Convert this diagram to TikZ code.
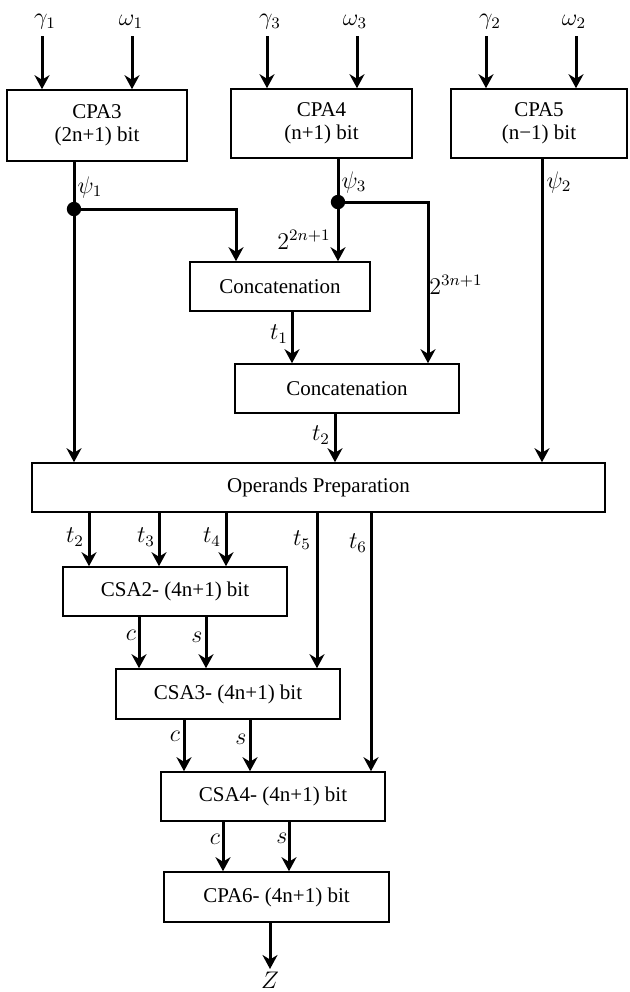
\documentclass[tikz,border=0pt]{standalone}
\RequirePackage{fix-cm}
\usepackage{fontspec}
\setmainfont{Liberation Serif}
\usetikzlibrary{arrows.meta}

\tikzset{
  blok/.style={draw, line width=0.8pt, inner sep=0pt, align=center,
    font=\fontsize{10.5}{11.5}\selectfont},
  pijl/.style={->, line width=1.5pt},
  lijn/.style={line width=1.5pt},
  lab/.style={inner sep=0pt, font=\fontsize{12}{14}\selectfont},
}

\begin{document}
\begin{tikzpicture}[x=0.5pt, y=-0.5pt, >={Stealth[length=7pt,width=7.5pt]}]

  \useasboundingbox (0,0) rectangle (629,992);

  % Optellers bovenaan
  \node[blok, minimum width=90pt, minimum height=35.5pt] (cpa3) at (97,125.5) {CPA3\\(2n+1) bit};
  \node[blok, minimum width=90.5pt, minimum height=34.5pt] (cpa4) at (321.5,123.5) {CPA4\\(n+1) bit};
  \node[blok, minimum width=88pt, minimum height=34.5pt] (cpa5) at (539,123.5) {CPA5\\(n−1) bit};

  % Concatenatie
  \node[blok, minimum width=90pt, minimum height=24.5pt] (cat1) at (280,286.5) {Concatenation};
  \node[blok, minimum width=112pt, minimum height=24.5pt] (cat2) at (347,388.5) {Concatenation};

  % Operanden
  \node[blok, minimum width=286.5pt, minimum height=24.5pt] (prep) at (318.5,487.5) {Operands Preparation};

  % CSA-boom en laatste opteller
  \node[blok, minimum width=112pt, minimum height=24.5pt] (csa2) at (175,591.5) {CSA2- (4n+1) bit};
  \node[blok, minimum width=112pt, minimum height=25pt] (csa3) at (228,694) {CSA3- (4n+1) bit};
  \node[blok, minimum width=112pt, minimum height=24.5pt] (csa4) at (273,796.5) {CSA4- (4n+1) bit};
  \node[blok, minimum width=112.5pt, minimum height=25pt] (cpa6) at (276.5,897) {CPA6- (4n+1) bit};

  % Ingangen
  \coordinate (xg1) at (42,36);
  \coordinate (xw1) at (132,36);
  \coordinate (xg3) at (267,36);
  \coordinate (xw3) at (357,36);
  \coordinate (xg2) at (486,36);
  \coordinate (xw2) at (576,36);

  \node[lab] (lg1) at (45,22) {$\gamma_1$};
  \node[lab] (lw1) at (131,22) {$\omega_1$};
  \node[lab] (lg3) at (270,22) {$\gamma_3$};
  \node[lab] (lw3) at (355,22) {$\omega_3$};
  \node[lab] (lg2) at (490,22) {$\gamma_2$};
  \node[lab] (lw2) at (574,22) {$\omega_2$};

  \draw[pijl] (xg1) -- (xg1 |- cpa3.north);
  \draw[pijl] (xw1) -- (xw1 |- cpa3.north);
  \draw[pijl] (xg3) -- (xg3 |- cpa4.north);
  \draw[pijl] (xw3) -- (xw3 |- cpa4.north);
  \draw[pijl] (xg2) -- (xg2 |- cpa5.north);
  \draw[pijl] (xw2) -- (xw2 |- cpa5.north);

  % Kolommen
  \foreach \nm/\x in {xp2/542, xt1/292, xt2/335, xo2/89, xo3/159, xo4/226,
      xo5/317, xo6/371, xc2/139, xs2/206, xc3/184, xs3/250, xc4/223,
      xs4/289, xz/270}
    \coordinate (\nm) at (\x,0);

  % Vertakkingen
  \coordinate (d1) at (74,209);
  \coordinate (k1) at (236,209);
  \coordinate (d3) at (338,202);
  \coordinate (k3) at (428,202);

  \draw[pijl] (d1 |- cpa3.south) -- (d1 |- prep.north);
  \draw[pijl] (d1) -- (k1) -- (k1 |- cat1.north);
  \fill (d1) circle (3.6pt);

  \draw[pijl] (d3 |- cpa4.south) -- (d3 |- cat1.north);
  \draw[pijl] (d3) -- (k3) -- (k3 |- cat2.north);
  \fill (d3) circle (3.6pt);

  \draw[pijl] (xp2 |- cpa5.south) -- (xp2 |- prep.north);
  \draw[pijl] (xt1 |- cat1.south) -- (xt1 |- cat2.north);
  \draw[pijl] (xt2 |- cat2.south) -- (xt2 |- prep.north);

  \node[lab] (lpsi1) at (90,187) {$\psi_1$};
  \node[lab] (lpsi3) at (354,182) {$\psi_3$};
  \node[lab] (lpsi2) at (559,182) {$\psi_2$};
  \node[lab] (lpow2) at (304,240) {$2^{2n+1}$};
  \node[lab] (lpow3) at (456,285) {$2^{3n+1}$};
  \node[lab] (lt1) at (279,334) {$t_1$};
  \node[lab] (lt2) at (321,435) {$t_2$};

  % Uitgangen van de operandenvoorbereiding
  \draw[pijl] (xo2 |- prep.south) -- (xo2 |- csa2.north);
  \draw[pijl] (xo3 |- prep.south) -- (xo3 |- csa2.north);
  \draw[pijl] (xo4 |- prep.south) -- (xo4 |- csa2.north);
  \draw[pijl] (xo5 |- prep.south) -- (xo5 |- csa3.north);
  \draw[pijl] (xo6 |- prep.south) -- (xo6 |- csa4.north);

  \node[lab] (lo2) at (75,537) {$t_2$};
  \node[lab] (lo3) at (146,537) {$t_3$};
  \node[lab] (lo4) at (212,537) {$t_4$};
  \node[lab] (lo5) at (302,540) {$t_5$};
  \node[lab] (lo6) at (358,543) {$t_6$};

  % Carry en som
  \draw[pijl] (xc2 |- csa2.south) -- (xc2 |- csa3.north);
  \draw[pijl] (xs2 |- csa2.south) -- (xs2 |- csa3.north);
  \draw[pijl] (xc3 |- csa3.south) -- (xc3 |- csa4.north);
  \draw[pijl] (xs3 |- csa3.south) -- (xs3 |- csa4.north);
  \draw[pijl] (xc4 |- csa4.south) -- (xc4 |- cpa6.north);
  \draw[pijl] (xs4 |- csa4.south) -- (xs4 |- cpa6.north);

  \node[lab] (lc2) at (131,635) {$c$};
  \node[lab] (ls2) at (197,637) {$s$};
  \node[lab] (lc3) at (175,736) {$c$};
  \node[lab] (ls3) at (241,739) {$s$};
  \node[lab] (lc4) at (215,839) {$c$};
  \node[lab] (ls4) at (282,838) {$s$};

  % Resultaat
  \node[lab] (lz) at (270,980) {$Z$};
  \draw[pijl] (xz |- cpa6.south) -- (xz |- 0,969);

\end{tikzpicture}
\end{document}
